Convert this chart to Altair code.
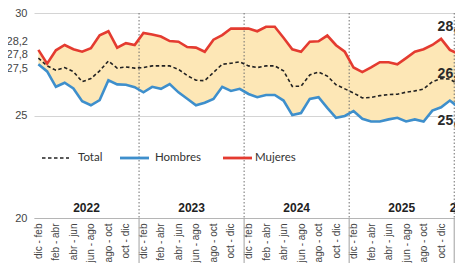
import json
import altair as alt
import pandas as pd

# ---------------- data ----------------
period_cycle = ["dic - feb", "ene - mar", "feb - abr", "mar - may", "abr - jun", "may - jul",
                "jun - ago", "jul - sep", "ago - oct", "sep - nov", "oct - dic", "nov - ene"]
periods = period_cycle * 4 + ["dic - feb"]

mujeres = [28.2, 27.53, 28.18, 28.44, 28.23, 28.11, 28.28, 28.91, 29.11, 28.31, 28.53, 28.44,
           29.03, 28.95, 28.85, 28.63, 28.6, 28.34, 28.31, 28.11, 28.7, 28.92, 29.24, 29.24,
           29.24, 29.11, 29.33, 29.33, 28.79, 28.23, 28.11, 28.6, 28.62, 28.9, 28.43, 28.11,
           27.34, 27.12, 27.35, 27.6, 27.6, 27.5, 27.8, 28.11, 28.23, 28.44, 28.74, 28.2,
           28.0]
total = [27.8, 27.42, 27.21, 27.34, 27.14, 26.65, 26.8, 27.18, 27.66, 27.31, 27.37, 27.31,
         27.34, 27.42, 27.42, 27.42, 27.25, 26.95, 26.72, 26.7, 27.1, 27.5, 27.55, 27.62,
         27.42, 27.34, 27.42, 27.42, 27.18, 26.42, 26.43, 26.98, 27.12, 26.92, 26.5, 26.3,
         26.1, 25.86, 25.88, 25.97, 26.02, 26.04, 26.14, 26.2, 26.29, 26.65, 26.8, 26.78,
         26.5]
hombres = [27.5, 27.15, 26.4, 26.6, 26.32, 25.7, 25.5, 25.75, 26.72, 26.52, 26.5, 26.38,
           26.13, 26.4, 26.3, 26.53, 26.13, 25.82, 25.5, 25.62, 25.81, 26.4, 26.2, 26.3,
           26.05, 25.89, 26.0, 26.0, 25.73, 25.02, 25.12, 25.81, 25.89, 25.37, 24.89, 24.98,
           25.22, 24.84, 24.71, 24.71, 24.81, 24.89, 24.71, 24.81, 24.71, 25.24, 25.4, 25.73,
           25.4]

year_labels = ["2022", "2023", "2024", "2025", "2026"]
year_start = [-0.5, 11.5, 23.5, 35.5, 47.5]
year_end = [11.5, 23.5, 35.5, 47.5, 49.5]
separators = [11.5, 23.5, 35.5, 47.5]
y_ticks = [20, 25, 30]

series_names = ["Total", "Hombres", "Mujeres"]
series_colors = ["#222222", "#3e8fcc", "#e43b30"]

# ---------------- frames ----------------
idx = list(range(len(periods)))
wide = pd.DataFrame({"idx": idx, "periodo": periods, "Total": total,
                     "Hombres": hombres, "Mujeres": mujeres})
long = wide.melt(id_vars=["idx", "periodo"], value_vars=series_names,
                 var_name="serie", value_name="valor")
years_df = pd.DataFrame({"anio": year_labels, "ini": year_start, "fin": year_end})
years_df["centro"] = (years_df["ini"] + years_df["fin"]) / 2
sep_df = pd.DataFrame({"sep": separators})

FONT = "Liberation Sans"
W, H = 421, 205
STEP = 8.755                      # px per month in the reference
last = len(periods) - 1

xscale = alt.Scale(domain=[-0.5, -0.5 + W / STEP], nice=False, zero=False)
yscale = alt.Scale(domain=[20, 30], nice=False, zero=False)

label_expr = json.dumps(periods) + "[datum.value]"

x_axis = alt.Axis(values=list(range(0, len(periods), 2)), labelExpr=label_expr,
                  labelAngle=270, labelFontSize=10, labelFont=FONT, labelColor="#444444",
                  labelPadding=5, ticks=False, grid=False, domainColor="#b5b5b5",
                  domainWidth=1, title=None, labelOverlap=False, labelFlush=False,
                  labelBound=False)
y_axis = alt.Axis(values=y_ticks, labelFontSize=11, labelFont=FONT, labelColor="#444444",
                  labelPadding=7, ticks=False, domain=False, gridColor="#d4d4d4",
                  gridWidth=1, title=None)

area = alt.Chart(wide).mark_area(color="#fde7b6", opacity=1).encode(
    x=alt.X("idx:Q", scale=xscale, axis=x_axis),
    y=alt.Y("Mujeres:Q", scale=yscale, axis=y_axis),
    y2="Hombres:Q",
)

seps_dotted = alt.Chart(sep_df).mark_rule(color="#707070", strokeDash=[1.5, 2], strokeWidth=1).encode(
    x=alt.X("sep:Q", scale=xscale, axis=x_axis), y=alt.value(0), y2=alt.value(H)
)
seps_solid = alt.Chart(sep_df).mark_rule(color="#b0b0b0", strokeWidth=1.2).encode(
    x=alt.X("sep:Q", scale=xscale, axis=x_axis), y=alt.value(H), y2=alt.value(250)
)

line_layers = []
for name, color in zip(series_names, series_colors):
    d = long[long["serie"] == name]
    if name == "Total":
        mk = alt.Chart(d).mark_line(color=color, strokeWidth=1.6, strokeDash=[3.5, 2.5])
    else:
        mk = alt.Chart(d).mark_line(color=color, strokeWidth=2.6)
    line_layers.append(mk.encode(x=alt.X("idx:Q", scale=xscale, axis=x_axis),
                                 y=alt.Y("valor:Q", scale=yscale, axis=y_axis)))

dots = alt.Chart(long[long["idx"] == last]).mark_circle(size=42, opacity=1).encode(
    x=alt.X("idx:Q", scale=xscale, axis=x_axis),
    y=alt.Y("valor:Q", scale=yscale, axis=y_axis),
    color=alt.Color("serie:N", scale=alt.Scale(domain=series_names, range=series_colors), legend=None),
)

label_expr_val = "replace(format(datum.valor, '.1f'), '.', ',')"
left_dy = {"Mujeres": -8, "Total": -3, "Hombres": 5}
right_dy = {"Mujeres": -27, "Total": -11, "Hombres": 14}
value_labels = []
for name in series_names:
    d0 = long[(long["serie"] == name) & (long["idx"] == 0)]
    value_labels.append(
        alt.Chart(d0).mark_text(align="right", baseline="middle", fontSize=11, font=FONT,
                                color="#444444", dy=left_dy[name])
        .transform_calculate(lab=label_expr_val)
        .encode(x=alt.value(-6), y=alt.Y("valor:Q", scale=yscale, axis=y_axis), text="lab:N")
    )
    d1 = long[(long["serie"] == name) & (long["idx"] == last)]
    value_labels.append(
        alt.Chart(d1).mark_text(align="left", baseline="middle", fontSize=14, font=FONT,
                                fontWeight="bold", color="#2a2a2a", dx=-21, dy=right_dy[name])
        .transform_calculate(lab=label_expr_val)
        .encode(x=alt.X("idx:Q", scale=xscale, axis=x_axis),
                y=alt.Y("valor:Q", scale=yscale, axis=y_axis), text="lab:N")
    )

year_text = alt.Chart(years_df).mark_text(fontSize=12, font=FONT, fontWeight="bold",
                                           color="#222222", baseline="middle").encode(
    x=alt.X("centro:Q", scale=xscale, axis=x_axis), y=alt.value(195), text="anio:N"
)

# manual legend
legend_layers = []
leg_one = pd.DataFrame({"k": [0]})
leg_specs = [
    ("Total", 8, 35, 44, dict(strokeDash=[3.5, 2.5], strokeWidth=1.7)),
    ("Hombres", 86, 115, 121, dict(strokeWidth=2.8)),
    ("Mujeres", 189, 218, 221, dict(strokeWidth=2.8)),
]
for (name, x0, x1, xt, style), color in zip(leg_specs, series_colors):
    legend_layers.append(
        alt.Chart(leg_one).mark_rule(color=color, **style).encode(
            x=alt.value(x0), x2=alt.value(x1), y=alt.value(145))
    )
    legend_layers.append(
        alt.Chart(leg_one).mark_text(text=name, align="left", baseline="middle", fontSize=11.5,
                                     font="Lato", color="#333333").encode(
            x=alt.value(xt), y=alt.value(145))
    )

chart = alt.layer(
    area, seps_dotted, seps_solid, *line_layers, dots, *value_labels, year_text, *legend_layers
).properties(
    width=W, height=H,
    autosize=alt.AutoSizeParams(type="none"),
    padding={"left": 26, "right": 0, "top": 5, "bottom": 45},
).configure_view(stroke=None).configure_axisX(labelOverlap=False)

chart.save("out.html", embed_options={"renderer": "svg", "actions": False})
